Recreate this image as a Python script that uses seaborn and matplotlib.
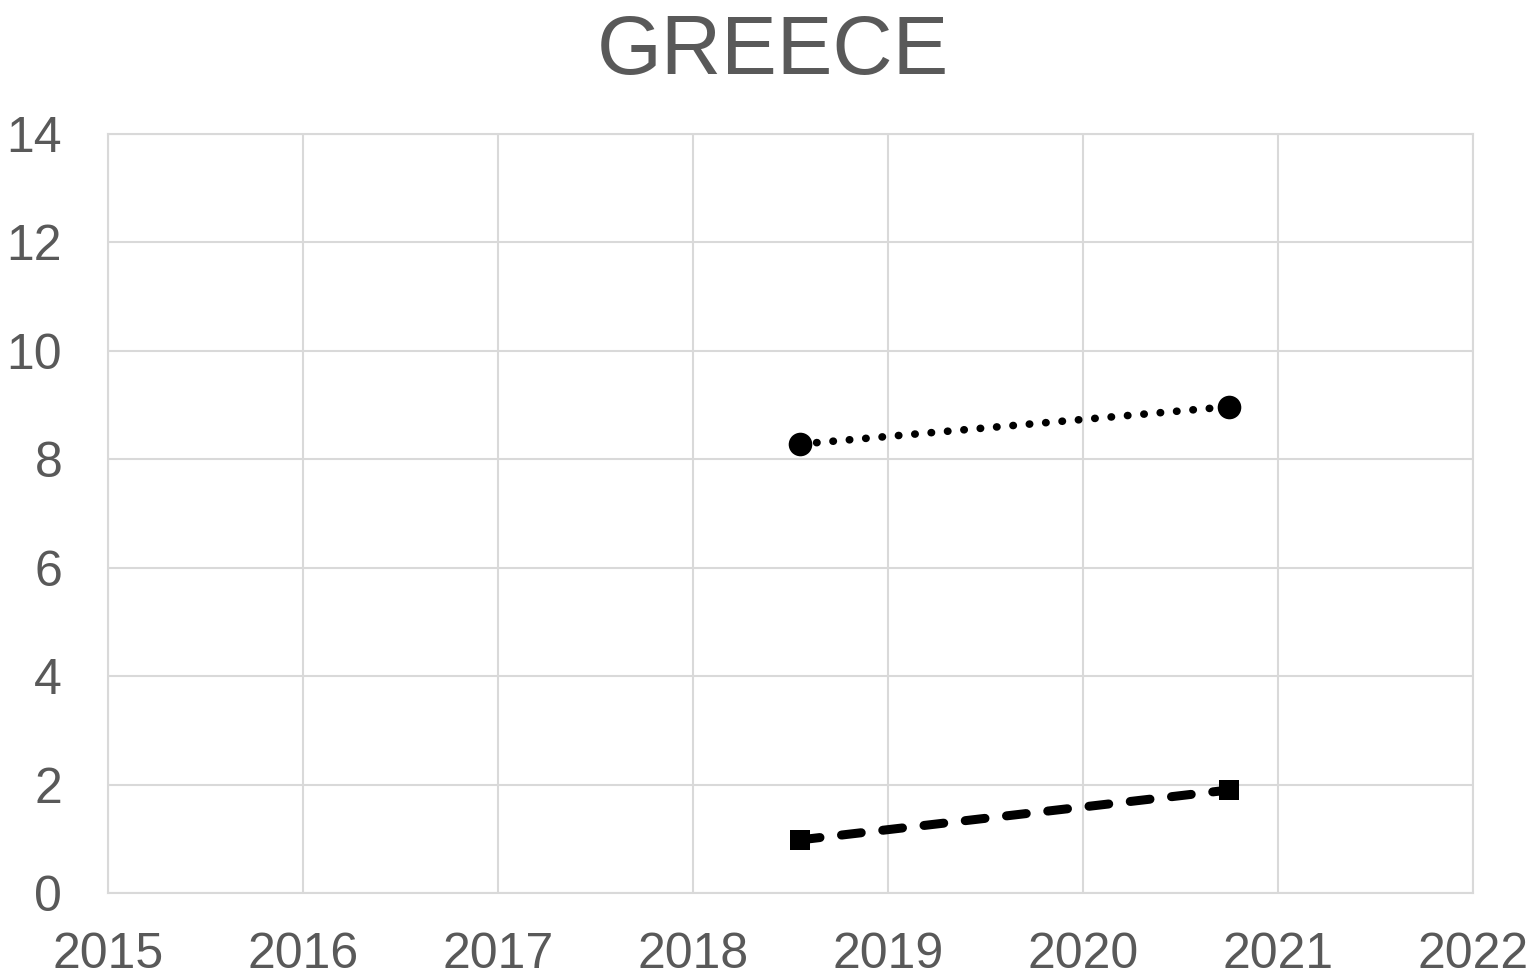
import pandas as pd
import seaborn as sns
import matplotlib.pyplot as plt

# data
years_a = [2018.55, 2020.75]
values_a = [8.28, 8.97]
years_b = [2018.55, 2020.75]
values_b = [0.98, 1.90]

df_a = pd.DataFrame({'Year': years_a, 'Value': values_a})
df_b = pd.DataFrame({'Year': years_b, 'Value': values_b})

sns.set_theme(style='white')
plt.rcParams['font.family'] = ['Liberation Sans', 'DejaVu Sans']

fig = plt.figure(figsize=(15.36, 9.8), dpi=100)
ax = fig.add_axes([0.0703, 0.0888, 0.8887, 0.7745])

grey = '#d9d9d9'
text_c = '#595959'

sns.lineplot(data=df_a, x='Year', y='Value', ax=ax, color='black',
             linewidth=5.5, marker='o', markersize=17, markeredgewidth=0,
             dashes=False)
ax.lines[-1].set_dashes([0.05, 2.1])
ax.lines[-1].set_dash_capstyle('round')

sns.lineplot(data=df_b, x='Year', y='Value', ax=ax, color='black',
             linewidth=6.5, marker='s', markersize=15, markeredgewidth=0,
             dashes=False)
ax.lines[-1].set_dashes([2.2, 2.4])
ax.lines[-1].set_dash_capstyle('round')

ax.set_xlim(2015, 2022)
ax.set_ylim(0, 14)
ax.set_xticks(range(2015, 2023))
ax.set_yticks(range(0, 15, 2))
ax.grid(True, color=grey, linewidth=1.5)
ax.set_axisbelow(True)
for s in ax.spines.values():
    s.set_color(grey)
    s.set_linewidth(1.5)

ax.tick_params(axis='both', length=0, labelsize=36, colors=text_c)
ax.tick_params(axis='x', pad=28)
ax.tick_params(axis='y', pad=33)
ax.set_xlabel('')
ax.set_ylabel('')

fig.text(0.503, 0.947, 'GREECE', ha='center', va='center', fontsize=60, color=text_c)

fig.savefig('out.png', dpi=100, facecolor='white')
